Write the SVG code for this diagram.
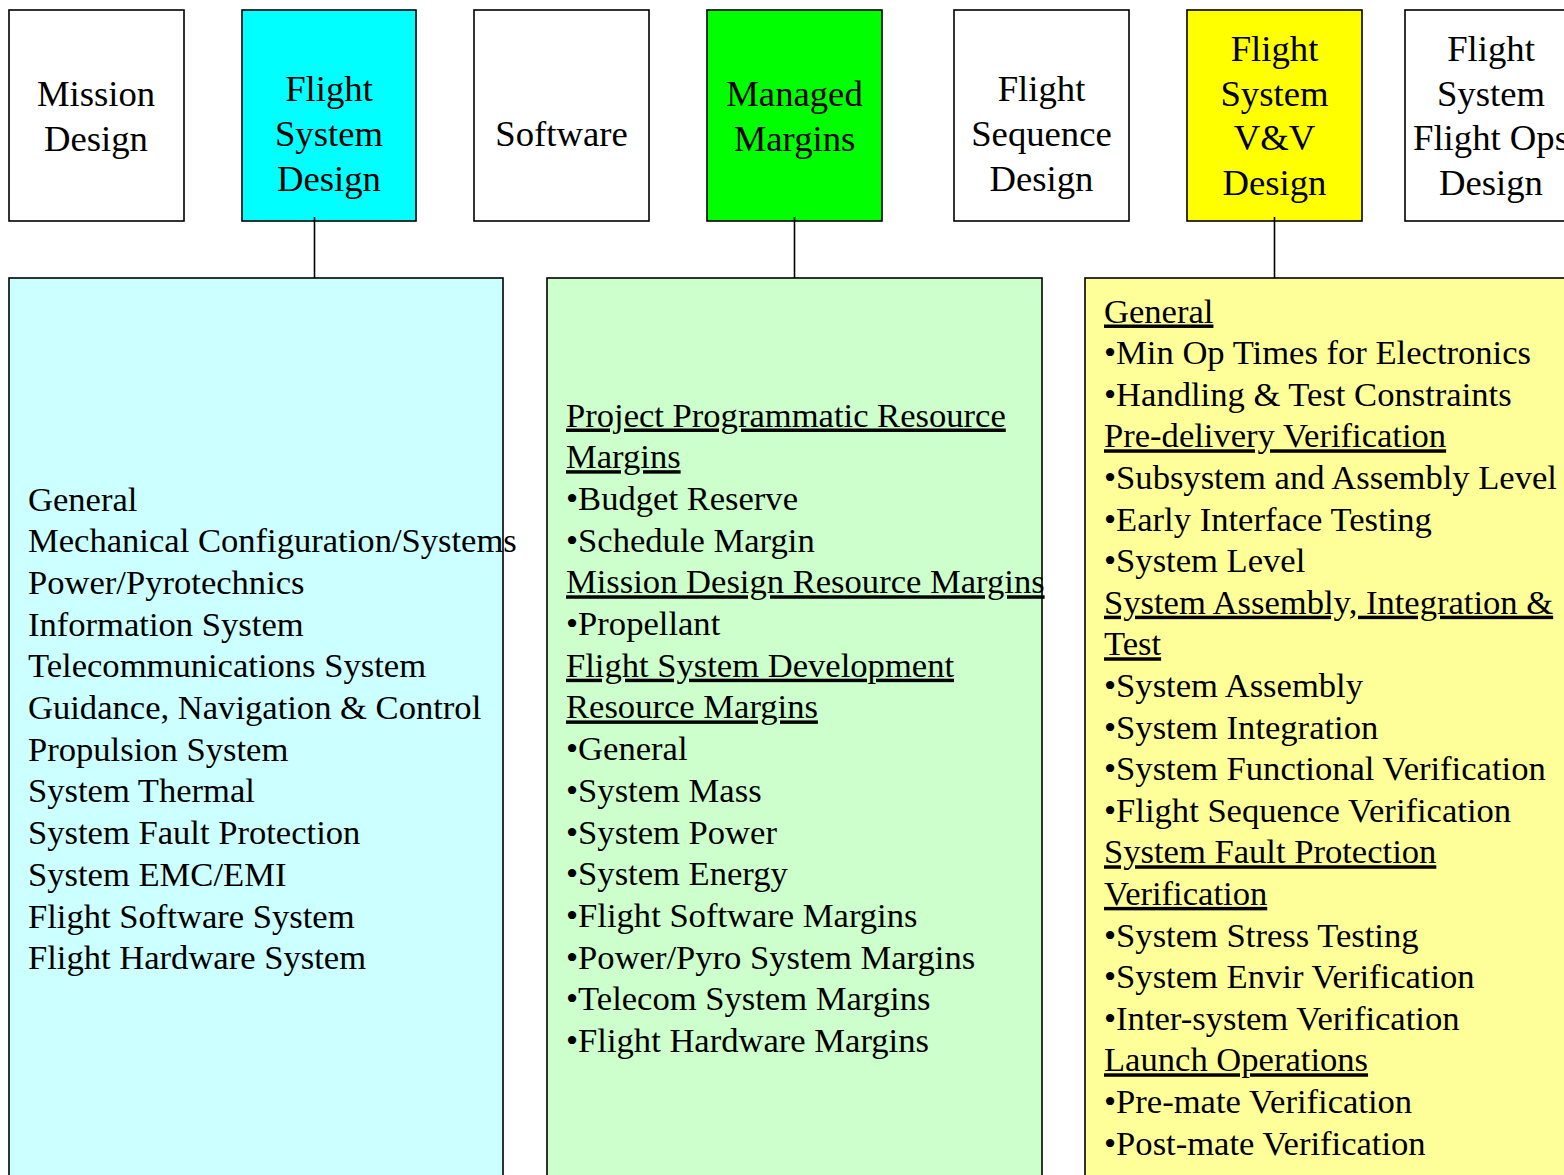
<svg xmlns="http://www.w3.org/2000/svg" width="1564" height="1175" viewBox="0 0 1564 1175">
<style>
.box{stroke:#000;stroke-width:1.6}
.border{fill:none;stroke:#000;stroke-width:1.6}
.h{font-family:"Liberation Serif","Times New Roman",serif;font-size:36.7px;fill:#000;text-anchor:middle}
.t{font-family:"Liberation Serif","Times New Roman",serif;font-size:34.6px;fill:#000}
.u{text-decoration:underline}
.conn{stroke:#000;stroke-width:1.6;fill:none}
</style>
<rect width="1564" height="1175" fill="#fff"/>
<g id="mission-design">
<rect class="box" x="9" y="10" width="175" height="211" fill="#fff"/>
<text class="h" x="96" y="106">Mission</text>
<text class="h" x="96" y="151">Design</text>
</g>
<g id="flight-system-design">
<rect class="box" x="242" y="10" width="174" height="211" fill="#00ffff"/>
<text class="h" x="329" y="101">Flight</text>
<text class="h" x="329" y="146">System</text>
<text class="h" x="329" y="191">Design</text>
</g>
<g id="software">
<rect class="box" x="474" y="10" width="175" height="211" fill="#fff"/>
<text class="h" x="561.5" y="146">Software</text>
</g>
<g id="managed-margins">
<rect class="box" x="707" y="10" width="175" height="211" fill="#00ff00"/>
<text class="h" x="794.5" y="105.5">Managed</text>
<text class="h" x="794.5" y="150.5">Margins</text>
</g>
<g id="flight-sequence-design">
<rect class="box" x="954" y="10" width="175" height="211" fill="#fff"/>
<text class="h" x="1041.5" y="101">Flight</text>
<text class="h" x="1041.5" y="146">Sequence</text>
<text class="h" x="1041.5" y="191">Design</text>
</g>
<g id="flight-system-vv-design">
<rect class="box" x="1187" y="10" width="175" height="211" fill="#ffff00"/>
<text class="h" x="1274.5" y="61">Flight</text>
<text class="h" x="1274.5" y="105.5">System</text>
<text class="h" x="1274.5" y="150">V&amp;V</text>
<text class="h" x="1274.5" y="194.5">Design</text>
</g>
<g id="flight-system-flight-ops-design">
<rect class="box" x="1405" y="10" width="175" height="211" fill="#fff"/>
<text class="h" x="1491" y="61">Flight</text>
<text class="h" x="1491" y="105.5">System</text>
<text class="h" x="1491" y="150">Flight Ops</text>
<text class="h" x="1491" y="194.5">Design</text>
</g>
<g id="connectors">
<line class="conn" x1="314.5" y1="217" x2="314.5" y2="282"/>
<line class="conn" x1="794.5" y1="217" x2="794.5" y2="282"/>
<line class="conn" x1="1274.5" y1="217" x2="1274.5" y2="282"/>
</g>
<g id="flight-system-design-panel">
<rect x="9" y="278" width="494" height="910" fill="#ccffff"/>
<text class="t" x="28" y="510.5">General</text>
<text class="t" x="28" y="552.2">Mechanical Configuration/Systems</text>
<text class="t" x="28" y="593.9">Power/Pyrotechnics</text>
<text class="t" x="28" y="635.6">Information System</text>
<text class="t" x="28" y="677.3">Telecommunications System</text>
<text class="t" x="28" y="719">Guidance, Navigation &amp; Control</text>
<text class="t" x="28" y="760.7">Propulsion System</text>
<text class="t" x="28" y="802.4">System Thermal</text>
<text class="t" x="28" y="844.1">System Fault Protection</text>
<text class="t" x="28" y="885.8">System EMC/EMI</text>
<text class="t" x="28" y="927.5">Flight Software System</text>
<text class="t" x="28" y="969.2">Flight Hardware System</text>
<rect class="border" x="9" y="278" width="494" height="910"/>
</g>
<g id="managed-margins-panel">
<rect x="547" y="278" width="495" height="910" fill="#ccffcc"/>
<text class="t u" x="566" y="426.5">Project Programmatic Resource</text>
<text class="t u" x="566" y="468.2">Margins</text>
<text class="t" x="566" y="509.9">•Budget Reserve</text>
<text class="t" x="566" y="551.6">•Schedule Margin</text>
<text class="t u" x="566" y="593.3">Mission Design Resource Margins</text>
<text class="t" x="566" y="635">•Propellant</text>
<text class="t u" x="566" y="676.7">Flight System Development</text>
<text class="t u" x="566" y="718.4">Resource Margins</text>
<text class="t" x="566" y="760.1">•General</text>
<text class="t" x="566" y="801.8">•System Mass</text>
<text class="t" x="566" y="843.5">•System Power</text>
<text class="t" x="566" y="885.2">•System Energy</text>
<text class="t" x="566" y="926.9">•Flight Software Margins</text>
<text class="t" x="566" y="968.6">•Power/Pyro System Margins</text>
<text class="t" x="566" y="1010.3">•Telecom System Margins</text>
<text class="t" x="566" y="1052">•Flight Hardware Margins</text>
<rect class="border" x="547" y="278" width="495" height="910"/>
</g>
<g id="flight-system-vv-panel">
<rect x="1085" y="278" width="495" height="910" fill="#ffff99"/>
<text class="t u" x="1104" y="322.5">General</text>
<text class="t" x="1104" y="364.1">•Min Op Times for Electronics</text>
<text class="t" x="1104" y="405.7">•Handling &amp; Test Constraints</text>
<text class="t u" x="1104" y="447.3">Pre-delivery Verification</text>
<text class="t" x="1104" y="488.9">•Subsystem and Assembly Level</text>
<text class="t" x="1104" y="530.5">•Early Interface Testing</text>
<text class="t" x="1104" y="572.1">•System Level</text>
<text class="t u" x="1104" y="613.7">System Assembly, Integration &amp;</text>
<text class="t u" x="1104" y="655.3">Test</text>
<text class="t" x="1104" y="696.9">•System Assembly</text>
<text class="t" x="1104" y="738.5">•System Integration</text>
<text class="t" x="1104" y="780.1">•System Functional Verification</text>
<text class="t" x="1104" y="821.7">•Flight Sequence Verification</text>
<text class="t u" x="1104" y="863.3">System Fault Protection</text>
<text class="t u" x="1104" y="904.9">Verification</text>
<text class="t" x="1104" y="946.5">•System Stress Testing</text>
<text class="t" x="1104" y="988.1">•System Envir Verification</text>
<text class="t" x="1104" y="1029.7">•Inter-system Verification</text>
<text class="t u" x="1104" y="1071.3">Launch Operations</text>
<text class="t" x="1104" y="1112.9">•Pre-mate Verification</text>
<text class="t" x="1104" y="1154.5">•Post-mate Verification</text>
<rect class="border" x="1085" y="278" width="495" height="910"/>
</g>
</svg>
